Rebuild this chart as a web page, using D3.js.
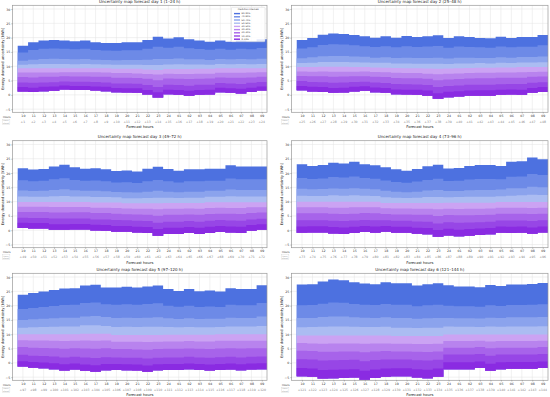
<!DOCTYPE html>
<html>
<head>
<meta charset="utf-8">
<script src="https://cdn.jsdelivr.net/npm/d3@7"></script>
<style>
  body { margin: 0; background: #fff; }
  svg { display: block; font-family: "DejaVu Sans", sans-serif; }
</style>
</head>
<body>
<div id="chart"></div>
<script>
// tick labels
var hours = ["10","11","12","13","14","15","16","17","18","19","20","21","22","23","24","01","02","03","04","05","06","07","08","09"];
var aheadStart = [1, 25, 49, 73, 97, 121];
var yTicks = [-5, 0, 5, 10, 15, 20, 25, 30];
var dayTitles = [
  "Uncertainty map forecast day 1 (1\u201324 h)",
  "Uncertainty map forecast day 2 (25\u201348 h)",
  "Uncertainty map forecast day 3 (49\u201372 h)",
  "Uncertainty map forecast day 4 (73\u201396 h)",
  "Uncertainty map forecast day 5 (97\u2013120 h)",
  "Uncertainty map forecast day 6 (121\u2013144 h)"
];
// bands from lowest (0-10%) to highest (80-90%)
var bandLabels = ["0\u201310%","10\u201320%","20\u201330%","30\u201340%","40\u201350%","50\u201360%","60\u201370%","70\u201380%","80\u201390%"];
var bandColors = ["#8a2be2","#9746e6","#a763ea","#b883ee","#cba3f3","#abbcf2","#8ba3ed","#6d8ae7","#4d71e0"];

// quantile boundaries per forecast hour (kWh), lowest to highest
var day1 = [
  [1.2,2.7,4.3,6.2,7.8,9.3,10.5,11.9,14.8,17.2],
  [1.0,2.5,4.2,6.1,7.8,9.3,10.7,12.3,15.7,18.4],
  [1.3,2.8,4.3,6.3,7.8,9.3,10.8,12.5,16.1,19.0],
  [1.4,2.9,4.4,6.3,7.8,9.3,10.8,12.6,16.2,19.2],
  [1.9,3.3,4.7,6.5,7.9,9.3,10.8,12.5,16.1,19.0],
  [1.7,3.1,4.6,6.4,7.9,9.3,10.7,12.4,15.9,18.7],
  [1.7,3.1,4.6,6.4,7.9,9.3,10.8,12.5,16.1,19.0],
  [1.5,2.9,4.5,6.3,7.9,9.3,10.7,12.3,15.7,18.4],
  [1.3,2.8,4.3,6.3,7.8,9.3,10.6,12.2,15.5,18.1],
  [0.9,2.4,4.0,6.0,7.6,9.1,10.5,12.1,15.4,18.1],
  [0.8,2.3,4.0,6.0,7.6,9.1,10.5,12.2,15.6,18.4],
  [0.7,2.3,3.9,5.9,7.5,9.1,10.5,12.2,15.6,18.4],
  [0.1,1.7,3.4,5.6,7.3,8.9,10.4,12.3,16.1,19.2],
  [-0.9,0.9,2.7,5.1,7.1,8.7,10.4,12.5,16.8,20.3],
  [0.2,1.8,3.5,5.7,7.4,9.0,10.6,12.5,16.5,19.7],
  [0.0,1.7,3.4,5.6,7.3,9.0,10.7,12.7,16.8,20.1],
  [-0.3,1.4,3.2,5.5,7.3,9.0,10.6,12.4,16.3,19.4],
  [0.0,1.7,3.5,5.6,7.4,9.1,10.6,12.4,16.0,19.0],
  [0.1,1.8,3.5,5.7,7.4,9.1,10.5,12.2,15.8,18.6],
  [0.9,2.5,4.1,6.1,7.7,9.3,10.8,12.5,16.1,19.0],
  [0.7,2.3,4.0,6.0,7.7,9.3,10.7,12.4,15.8,18.6],
  [0.5,2.1,3.8,6.0,7.7,9.3,10.8,12.5,16.1,19.0],
  [1.0,2.5,4.2,6.1,7.8,9.3,10.7,12.4,15.9,18.7],
  [1.5,2.9,4.5,6.3,7.9,9.3,10.8,12.6,16.4,19.4]
];
var day2 = [
  [1.6,3.1,4.8,6.6,8.2,9.7,11.1,12.8,16.2,19.2],
  [1.2,2.8,4.5,6.5,8.1,9.7,11.2,13.1,16.6,19.9],
  [1.0,2.7,4.4,6.5,8.2,9.8,11.5,13.5,17.4,21.0],
  [0.7,2.4,4.2,6.3,8.1,9.8,11.5,13.6,17.7,21.4],
  [0.8,2.5,4.3,6.4,8.1,9.8,11.5,13.6,17.6,21.3],
  [1.2,2.8,4.5,6.5,8.1,9.7,11.4,13.4,17.3,20.9],
  [1.4,3.0,4.6,6.5,8.2,9.7,11.3,13.3,17.0,20.5],
  [0.9,2.6,4.3,6.3,8.0,9.6,11.2,13.0,16.7,20.0],
  [0.7,2.4,4.1,6.2,7.9,9.5,11.2,13.1,17.0,20.5],
  [0.2,1.9,3.8,5.9,7.7,9.4,11.0,12.9,16.6,20.0],
  [0.1,1.8,3.7,5.8,7.6,9.3,11.0,13.0,17.0,20.6],
  [0.0,1.8,3.6,5.8,7.6,9.3,10.9,12.9,16.7,20.2],
  [-0.3,1.5,3.4,5.6,7.4,9.2,10.9,12.9,16.9,20.5],
  [-1.4,0.6,2.7,5.1,7.2,9.1,10.9,13.0,17.1,20.8],
  [-0.8,1.1,3.1,5.4,7.4,9.2,10.8,12.7,16.5,19.9],
  [-0.6,1.3,3.3,5.5,7.5,9.3,11.0,13.0,16.9,20.5],
  [-0.3,1.5,3.5,5.7,7.6,9.4,11.0,13.0,16.7,20.2],
  [-0.3,1.6,3.5,5.8,7.7,9.5,11.1,12.9,16.6,19.9],
  [-0.3,1.6,3.5,5.8,7.7,9.5,11.0,12.9,16.5,19.8],
  [0.0,1.8,3.7,6.0,7.8,9.6,11.2,13.1,16.9,20.3],
  [0.1,1.9,3.8,6.0,7.8,9.6,11.1,13.0,16.6,19.9],
  [0.0,1.8,3.8,6.0,7.9,9.7,11.3,13.2,16.8,20.2],
  [0.7,2.4,4.2,6.3,8.0,9.7,11.3,13.2,16.8,20.2],
  [1.0,2.7,4.4,6.4,8.1,9.7,11.4,13.4,17.3,20.9]
];
var day3 = [
  [0.8,2.6,4.4,6.4,8.2,9.9,11.8,13.9,17.5,21.7],
  [0.6,2.5,4.3,6.4,8.2,9.9,11.7,13.7,17.1,21.2],
  [0.6,2.5,4.3,6.4,8.2,9.9,11.7,13.8,17.3,21.4],
  [0.2,2.1,4.1,6.2,8.1,9.9,11.9,14.1,17.8,22.3],
  [0.2,2.1,4.1,6.2,8.1,9.9,12.0,14.3,18.2,22.9],
  [0.3,2.2,4.1,6.3,8.1,9.9,11.8,14.0,17.6,22.0],
  [0.3,2.2,4.1,6.3,8.1,9.9,11.8,13.8,17.3,21.5],
  [-0.1,1.9,3.8,6.0,7.9,9.7,11.6,13.8,17.4,21.7],
  [-0.2,1.8,3.8,6.0,7.9,9.7,11.6,13.6,17.1,21.3],
  [-0.5,1.5,3.6,5.8,7.8,9.7,11.5,13.4,16.7,20.7],
  [-0.5,1.5,3.5,5.6,7.6,9.4,11.2,13.3,16.8,20.9],
  [-0.8,1.2,3.3,5.5,7.5,9.4,11.2,13.2,16.5,20.5],
  [-1.0,1.1,3.2,5.4,7.5,9.4,11.3,13.5,17.1,21.5],
  [-1.9,0.4,2.6,5.1,7.3,9.4,11.4,13.8,17.6,22.2],
  [-1.3,0.9,3.0,5.4,7.5,9.5,11.4,13.5,17.1,21.4],
  [-1.3,0.9,3.0,5.4,7.5,9.5,11.3,13.3,16.7,20.8],
  [-1.0,1.1,3.2,5.5,7.6,9.5,11.4,13.5,17.1,21.3],
  [-1.3,0.9,3.0,5.4,7.5,9.5,11.4,13.5,17.1,21.3],
  [-1.0,1.2,3.3,5.7,7.8,9.8,11.7,13.8,17.3,21.5],
  [-0.6,1.5,3.6,5.8,7.9,9.8,11.7,13.8,17.3,21.5],
  [-0.8,1.3,3.4,5.8,7.8,9.8,11.9,14.2,18.1,22.7],
  [-1.0,1.2,3.3,5.7,7.8,9.8,11.8,14.1,17.8,22.3],
  [-0.2,1.8,3.8,6.0,8.0,9.8,11.8,14.1,17.8,22.3],
  [0.2,2.1,4.0,6.2,8.0,9.8,11.8,14.1,17.8,22.3]
];
var day4 = [
  [-0.9,1.3,3.5,5.9,8.0,10.0,12.1,14.5,18.3,23.1],
  [-0.8,1.4,3.5,5.9,8.0,10.0,12.0,14.3,17.9,22.5],
  [-0.8,1.4,3.5,5.9,8.0,10.0,12.0,14.4,18.1,22.8],
  [-1.1,1.1,3.3,5.8,7.9,10.0,12.2,14.6,18.6,23.6],
  [-1.3,1.0,3.2,5.7,7.9,10.0,12.1,14.5,18.4,23.3],
  [-1.0,1.2,3.4,5.8,8.0,10.0,12.2,14.7,18.8,23.9],
  [-0.6,1.5,3.6,6.0,8.0,10.0,12.1,14.5,18.3,23.1],
  [-0.9,1.3,3.5,5.9,8.0,10.0,12.0,14.3,18.0,22.7],
  [-0.5,1.5,3.5,5.7,7.7,9.5,11.5,13.8,17.4,22.0],
  [-0.9,1.2,3.3,5.5,7.6,9.5,11.4,13.5,16.9,21.3],
  [-0.9,1.2,3.3,5.5,7.6,9.5,11.3,13.3,16.6,20.8],
  [-1.2,0.9,3.1,5.4,7.5,9.5,11.4,13.5,17.0,21.4],
  [-1.4,0.8,3.0,5.4,7.5,9.5,11.6,13.9,17.6,22.4],
  [-2.3,0.1,2.4,5.0,7.3,9.5,11.6,14.1,18.0,22.9],
  [-1.8,0.5,2.8,5.3,7.5,9.6,11.5,13.7,17.2,21.6],
  [-2.1,0.2,2.6,5.2,7.4,9.6,11.6,13.7,17.3,21.8],
  [-1.9,0.4,2.7,5.2,7.5,9.6,11.7,14.0,17.7,22.5],
  [-1.7,0.6,2.8,5.3,7.5,9.6,11.7,14.1,17.9,22.8],
  [-1.4,0.8,3.0,5.4,7.6,9.6,11.7,14.1,17.9,22.8],
  [-0.9,1.3,3.4,5.8,7.9,9.9,11.9,14.2,17.8,22.5],
  [-1.0,1.2,3.4,5.8,7.9,9.9,12.1,14.7,18.7,23.9],
  [-0.9,1.3,3.4,5.8,7.9,9.9,12.2,14.7,18.8,24.1],
  [-1.2,1.0,3.2,5.7,7.8,9.9,12.4,15.2,19.7,25.4],
  [-0.8,1.3,3.5,5.8,7.9,9.9,12.3,15.0,19.3,24.8]
];
var day5 = [
  [-1.3,0.6,2.8,5.5,7.9,10.0,12.3,15.0,18.8,23.8],
  [-1.7,0.3,2.5,5.3,7.8,10.0,12.4,15.2,19.2,24.4],
  [-1.9,0.1,2.4,5.2,7.8,10.0,12.5,15.4,19.5,24.9],
  [-2.2,-0.1,2.2,5.1,7.7,10.0,12.6,15.6,19.9,25.5],
  [-2.7,-0.5,1.9,4.9,7.6,10.0,12.7,15.8,20.2,26.0],
  [-2.3,-0.2,2.1,5.1,7.7,10.0,12.7,15.8,20.3,26.1],
  [-2.8,-0.6,1.9,5.0,7.8,10.2,13.1,16.2,20.9,27.0],
  [-3.1,-0.8,1.7,4.9,7.7,10.2,13.1,16.4,21.1,27.3],
  [-2.6,-0.4,2.0,5.1,7.8,10.2,12.9,16.0,20.5,26.3],
  [-2.5,-0.4,1.9,4.8,7.4,9.7,12.5,15.7,20.3,26.3],
  [-2.6,-0.5,1.8,4.8,7.4,9.7,12.6,15.8,20.5,26.6],
  [-2.7,-0.6,1.8,4.7,7.4,9.7,12.5,15.7,20.3,26.3],
  [-3.1,-0.9,1.5,4.6,7.3,9.7,12.6,15.8,20.6,26.7],
  [-2.6,-0.5,1.8,4.8,7.4,9.7,12.6,15.9,20.8,27.0],
  [-2.5,-0.4,1.9,4.9,7.5,9.8,12.5,15.6,20.0,25.8],
  [-2.5,-0.4,1.9,4.9,7.5,9.8,12.4,15.3,19.6,25.1],
  [-2.2,-0.2,2.1,5.0,7.6,9.8,12.5,15.6,20.0,25.8],
  [-2.5,-0.4,1.9,4.9,7.5,9.8,12.4,15.3,19.5,25.0],
  [-2.7,-0.6,1.8,4.8,7.5,9.8,12.4,15.4,19.7,25.3],
  [-2.5,-0.4,2.0,5.0,7.7,10.0,12.5,15.4,19.5,24.9],
  [-2.3,-0.2,2.1,5.1,7.7,10.0,12.7,15.8,20.3,26.1],
  [-2.6,-0.5,1.9,5.0,7.7,10.0,12.7,15.7,20.1,25.8],
  [-2.3,-0.2,2.1,5.1,7.7,10.0,12.7,15.7,20.1,25.8],
  [-2.2,-0.1,2.2,5.1,7.7,10.0,12.9,16.2,20.9,27.1]
];
var day6 = [
  [-4.7,-1.8,1.3,4.2,6.9,9.6,12.4,15.7,20.1,27.4],
  [-4.9,-2.0,1.2,4.1,6.8,9.6,12.5,15.7,20.2,27.5],
  [-5.5,-2.5,0.8,3.9,6.7,9.6,12.6,16.0,20.7,28.4],
  [-5.4,-2.4,0.9,3.9,6.8,9.6,12.7,16.2,21.1,29.1],
  [-5.3,-2.3,1.0,4.0,6.8,9.6,12.7,16.2,21.0,28.9],
  [-5.1,-2.2,1.1,4.0,6.8,9.6,12.6,15.9,20.6,28.2],
  [-5.9,-2.8,0.6,3.7,6.7,9.6,12.5,15.8,20.3,27.7],
  [-5.3,-2.3,1.0,4.0,6.8,9.6,12.5,15.7,20.2,27.5],
  [-4.9,-2.0,1.2,4.1,6.8,9.6,12.6,15.9,20.6,28.2],
  [-4.7,-1.9,1.2,4.0,6.7,9.4,12.3,15.7,20.3,27.8],
  [-4.7,-1.9,1.2,4.0,6.7,9.4,12.3,15.7,20.3,27.8],
  [-5.1,-2.2,0.9,3.9,6.6,9.4,12.2,15.4,19.8,27.0],
  [-5.4,-2.4,0.8,3.8,6.6,9.4,12.3,15.6,20.1,27.5],
  [-4.9,-2.0,1.1,4.0,6.7,9.4,12.3,15.7,20.3,27.8],
  [-2.2,0.2,2.9,5.3,7.6,9.9,12.7,15.7,20.0,27.1],
  [-2.2,0.2,2.9,5.3,7.6,9.9,12.6,15.6,19.8,26.7],
  [-2.2,0.2,2.9,5.3,7.6,9.9,12.6,15.6,19.8,26.7],
  [-1.8,0.5,3.1,5.5,7.7,9.9,12.5,15.5,19.6,26.4],
  [-2.8,-0.3,2.5,5.1,7.5,9.9,12.7,15.8,20.1,27.2],
  [-2.2,0.2,2.9,5.3,7.6,9.9,12.6,15.7,19.9,26.9],
  [-2.1,0.3,2.9,5.3,7.6,9.9,12.7,15.9,20.2,27.4],
  [-2.1,0.3,2.9,5.3,7.6,9.9,12.7,15.9,20.2,27.4],
  [-2.1,0.3,2.9,5.3,7.6,9.9,12.7,15.9,20.3,27.6],
  [-1.8,0.5,3.1,5.5,7.7,9.9,12.8,16.0,20.5,27.9]
];
var days = [day1, day2, day3, day4, day5, day6];

var width = 550, height = 397;
var colX = [[12.5, 267], [291.5, 548]];
var rowY = [5.3, 140.7, 273.3];
var plotH = 107;

var svg = d3.select("#chart")
  .append("svg")
  .attr("width", width)
  .attr("height", height);

days.forEach(function(data, k) {
  var col = k % 2, row = Math.floor(k / 2);
  var x0 = colX[col][0], w = colX[col][1] - colX[col][0];

  var g = svg.append("g")
    .attr("transform", "translate(" + x0 + "," + rowY[row] + ")");

  var x = d3.scaleLinear().domain([-1, 23.5]).range([0, w]);
  var y = d3.scaleLinear().domain([-6.1, 31.3]).range([plotH, 0]);

  // grid
  g.selectAll(".vgrid")
    .data(d3.range(24))
    .enter().append("line")
    .attr("x1", function(d) { return x(d); })
    .attr("x2", function(d) { return x(d); })
    .attr("y1", 0).attr("y2", plotH)
    .attr("stroke", "#e3e3e3").attr("stroke-width", 0.5);

  g.selectAll(".hgrid")
    .data(yTicks)
    .enter().append("line")
    .attr("x1", 0).attr("x2", w)
    .attr("y1", function(d) { return y(d); })
    .attr("y2", function(d) { return y(d); })
    .attr("stroke", "#e3e3e3").attr("stroke-width", 0.5);

  // step bands, widest first so neighbours overlap without seams
  for (var b = 8; b >= 0; b--) {
    var pts = [];
    data.forEach(function(d, i) {
      pts.push({ x: i - 0.5, lo: d[0], hi: d[b + 1] });
      pts.push({ x: i + 0.5, lo: d[0], hi: d[b + 1] });
    });
    var area = d3.area()
      .x(function(d) { return x(d.x); })
      .y0(function(d) { return y(d.lo); })
      .y1(function(d) { return y(d.hi); });
    g.append("path")
      .datum(pts)
      .attr("d", area)
      .attr("fill", bandColors[b]);
  }

  // frame
  g.append("rect")
    .attr("width", w).attr("height", plotH)
    .attr("fill", "none")
    .attr("stroke", "#999").attr("stroke-width", 0.7);

  // y axis
  var yAxis = d3.axisLeft(y).tickValues(yTicks).tickSize(1.2).tickPadding(1);
  var ya = g.append("g").call(yAxis);
  ya.select(".domain").remove();
  ya.selectAll("line").attr("stroke", "#666").attr("stroke-width", 0.4);
  ya.selectAll("text").attr("font-size", 3.2).attr("fill", "#333")
    .attr("font-family", "DejaVu Sans");

  g.append("text")
    .attr("transform", "rotate(-90)")
    .attr("x", -plotH / 2)
    .attr("y", -8.2)
    .attr("text-anchor", "middle")
    .attr("font-size", 3.6)
    .attr("fill", "#222")
    .text("Energy demand uncertainty [kWh]");

  // x axis: clock hours and hours ahead
  var xAxis = d3.axisBottom(x).tickValues(d3.range(24))
    .tickFormat(function(d) { return hours[d]; })
    .tickSize(1.2).tickPadding(1.2);
  var xa = g.append("g").attr("transform", "translate(0," + plotH + ")").call(xAxis);
  xa.select(".domain").remove();
  xa.selectAll("line").attr("stroke", "#666").attr("stroke-width", 0.4);
  xa.selectAll("text").attr("font-size", 3.2).attr("fill", "#333")
    .attr("font-family", "DejaVu Sans");

  g.selectAll(".ahead")
    .data(d3.range(24))
    .enter().append("text")
    .attr("x", function(d) { return x(d); })
    .attr("y", plotH + 10.6)
    .attr("text-anchor", "middle")
    .attr("font-size", 3.1)
    .attr("fill", "#888")
    .text(function(d) { return "+" + (aheadStart[k] + d); });

  g.append("text")
    .attr("x", -9.5).attr("y", plotH + 5.4)
    .attr("font-size", 2.6).attr("fill", "#333")
    .text("Hours");
  g.append("rect")
    .attr("x", -9.8).attr("y", plotH + 7)
    .attr("width", 7.2).attr("height", 5)
    .attr("fill", "none").attr("stroke", "#ccc").attr("stroke-width", 0.3);
  g.append("text")
    .attr("x", -9.5).attr("y", plotH + 9)
    .attr("font-size", 1.9).attr("fill", "#999")
    .text("Hours");
  g.append("text")
    .attr("x", -9.5).attr("y", plotH + 11.4)
    .attr("font-size", 1.9).attr("fill", "#999")
    .text("ahead");

  g.append("text")
    .attr("x", w / 2).attr("y", plotH + 16.2)
    .attr("text-anchor", "middle")
    .attr("font-size", 3.7).attr("fill", "#222")
    .text("Forecast hours");

  // title
  g.append("text")
    .attr("x", w / 2).attr("y", -2.3)
    .attr("text-anchor", "middle")
    .attr("font-size", 4).attr("fill", "#222")
    .text(dayTitles[k]);

  // legend only in first panel
  if (k === 0) {
    var lg = g.append("g").attr("transform", "translate(" + (w - 35.5) + ",2)");
    lg.append("rect")
      .attr("width", 33.5).attr("height", 34.5).attr("rx", 0.8)
      .attr("fill", "#fff").attr("fill-opacity", 0.85)
      .attr("stroke", "#ccc").attr("stroke-width", 0.4);
    lg.append("text")
      .attr("x", 16.7).attr("y", 3.2)
      .attr("text-anchor", "middle")
      .attr("font-size", 2.2).attr("fill", "#333")
      .text("Prediction intervals");
    var order = d3.range(9).reverse();
    order.forEach(function(b, j) {
      lg.append("rect")
        .attr("x", 2.5).attr("y", 5.6 + j * 3.2)
        .attr("width", 6).attr("height", 1.4)
        .attr("fill", bandColors[b]);
      lg.append("text")
        .attr("x", 10).attr("y", 6.9 + j * 3.2)
        .attr("font-size", 2.2).attr("fill", "#333")
        .text(bandLabels[b]);
    });
  }
});
</script>
</body>
</html>
